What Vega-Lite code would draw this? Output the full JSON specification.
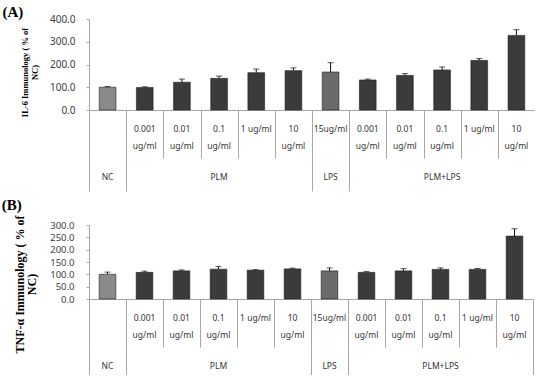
{
  "$schema": "https://vega.github.io/schema/vega-lite/v6.json",
  "padding": {"left": 1, "top": 5, "right": 0, "bottom": 0},
  "spacing": 6,
  "config": {
    "view": {"stroke": null},
    "font": "Noto Sans",
    "title": {"font": "Liberation Serif", "fontSize": 15, "fontWeight": "bold", "color": "#000000", "anchor": "start", "offset": 0},
    "axisY": {
      "grid": false, "tickSize": 3, "format": ".1f",
      "labelFont": "Noto Sans", "labelFontSize": 10, "labelColor": "#404040",
      "domainColor": "#a6a6a6", "tickColor": "#a6a6a6",
      "titleFont": "Liberation Serif", "titleFontWeight": "bold", "titleColor": "#000000"
    }
  },
  "datasets": {
    "il6": [
      {"cat": "NC", "group": "NC", "conc": "", "value": 100, "err": 3},
      {"cat": "PLM 0.001", "group": "PLM", "conc": "0.001\nug/ml", "value": 99, "err": 3},
      {"cat": "PLM 0.01", "group": "PLM", "conc": "0.01\nug/ml", "value": 122, "err": 14},
      {"cat": "PLM 0.1", "group": "PLM", "conc": "0.1\nug/ml", "value": 139, "err": 10},
      {"cat": "PLM 1", "group": "PLM", "conc": "1 ug/ml", "value": 164, "err": 16},
      {"cat": "PLM 10", "group": "PLM", "conc": "10\nug/ml", "value": 173, "err": 12},
      {"cat": "LPS 15", "group": "LPS", "conc": "15ug/ml", "value": 167, "err": 41},
      {"cat": "PLM+LPS 0.001", "group": "PLM+LPS", "conc": "0.001\nug/ml", "value": 132, "err": 4},
      {"cat": "PLM+LPS 0.01", "group": "PLM+LPS", "conc": "0.01\nug/ml", "value": 152, "err": 8},
      {"cat": "PLM+LPS 0.1", "group": "PLM+LPS", "conc": "0.1\nug/ml", "value": 176, "err": 13},
      {"cat": "PLM+LPS 1", "group": "PLM+LPS", "conc": "1 ug/ml", "value": 218, "err": 8},
      {"cat": "PLM+LPS 10", "group": "PLM+LPS", "conc": "10\nug/ml", "value": 328, "err": 25}
    ],
    "tnf": [
      {"cat": "NC", "group": "NC", "conc": "", "value": 100, "err": 9},
      {"cat": "PLM 0.001", "group": "PLM", "conc": "0.001\nug/ml", "value": 108, "err": 5},
      {"cat": "PLM 0.01", "group": "PLM", "conc": "0.01\nug/ml", "value": 114, "err": 4},
      {"cat": "PLM 0.1", "group": "PLM", "conc": "0.1\nug/ml", "value": 121, "err": 11},
      {"cat": "PLM 1", "group": "PLM", "conc": "1 ug/ml", "value": 117, "err": 2},
      {"cat": "PLM 10", "group": "PLM", "conc": "10\nug/ml", "value": 122, "err": 3},
      {"cat": "LPS 15", "group": "LPS", "conc": "15ug/ml", "value": 114, "err": 12},
      {"cat": "PLM+LPS 0.001", "group": "PLM+LPS", "conc": "0.001\nug/ml", "value": 108, "err": 3},
      {"cat": "PLM+LPS 0.01", "group": "PLM+LPS", "conc": "0.01\nug/ml", "value": 114, "err": 9},
      {"cat": "PLM+LPS 0.1", "group": "PLM+LPS", "conc": "0.1\nug/ml", "value": 120, "err": 6},
      {"cat": "PLM+LPS 1", "group": "PLM+LPS", "conc": "1 ug/ml", "value": 120, "err": 4},
      {"cat": "PLM+LPS 10", "group": "PLM+LPS", "conc": "10\nug/ml", "value": 255, "err": 30}
    ],
    "groups": [
      {"group": "NC", "mid": "NC"},
      {"group": "PLM", "mid": "PLM 0.1"},
      {"group": "LPS", "mid": "LPS 15"},
      {"group": "PLM+LPS", "mid": "PLM+LPS 0.1"}
    ]
  },
  "vconcat": [
    {
      "bounds": "flush",
      "spacing": 0,
      "vconcat": [
        {
          "title": {"text": "(A)", "dx": -18, "dy": 10},
          "width": 446,
          "height": 91,
          "data": {"name": "il6"},
          "transform": [{"calculate": "datum.value + datum.err", "as": "hi"}],
          "encoding": {
            "x": {
              "field": "cat", "type": "nominal",
              "scale": {"domain": ["NC", "PLM 0.001", "PLM 0.01", "PLM 0.1", "PLM 1", "PLM 10", "LPS 15", "PLM+LPS 0.001", "PLM+LPS 0.01", "PLM+LPS 0.1", "PLM+LPS 1", "PLM+LPS 10"], "paddingInner": 0, "paddingOuter": 0},
              "axis": {"labels": false, "ticks": false, "title": null, "domainColor": "#a6a6a6"}
            },
            "y": {
              "field": "value", "type": "quantitative",
              "scale": {"domain": [0, 400], "nice": false},
              "axis": {
                "title": ["IL-6 Immunology ( % of", "NC)"],
                "values": [0, 100, 200, 300, 400], "labelPadding": 11,
                "titleFontSize": 8.5, "titlePadding": 10, "titleY": 53, "titleLineHeight": 10
              }
            }
          },
          "layer": [
            {
              "mark": {"type": "rule", "color": "#111111"},
              "encoding": {"y2": {"field": "hi"}}
            },
            {
              "mark": {"type": "tick", "color": "#111111", "size": 6, "thickness": 1, "orient": "horizontal"},
              "encoding": {"y": {"field": "hi", "type": "quantitative"}}
            },
            {
              "mark": {"type": "bar", "width": {"band": 0.45}, "stroke": "#1e1e1e", "strokeWidth": 0.6},
              "encoding": {
                "color": {
                  "field": "group", "type": "nominal",
                  "scale": {"domain": ["NC", "PLM", "LPS", "PLM+LPS"], "range": ["#8a8a8a", "#3b3b3b", "#6b6b6b", "#3b3b3b"]},
                  "legend": null
                }
              }
            }
          ]
        },
        {
          "width": 446,
          "height": 48,
          "data": {"name": "il6"},
          "mark": {"type": "text", "fontSize": 8.5, "baseline": "top", "dy": -9, "lineBreak": "\n", "lineHeight": 16.5, "color": "#333333"},
          "encoding": {
            "x": {
              "field": "cat", "type": "nominal",
              "scale": {"domain": ["NC", "PLM 0.001", "PLM 0.01", "PLM 0.1", "PLM 1", "PLM 10", "LPS 15", "PLM+LPS 0.001", "PLM+LPS 0.01", "PLM+LPS 0.1", "PLM+LPS 1", "PLM+LPS 10"], "paddingInner": 0, "paddingOuter": 0},
              "axis": {"labels": false, "ticks": false, "domain": false, "title": null, "grid": true, "gridColor": "#a6a6a6", "gridOpacity": 1, "tickBand": "extent"}
            },
            "text": {"field": "conc"}
          }
        },
        {
          "width": 446,
          "height": 33,
          "data": {"name": "groups"},
          "mark": {"type": "text", "fontSize": 8.5, "baseline": "middle", "dy": 2.5, "color": "#333333"},
          "encoding": {
            "x": {
              "field": "mid", "type": "nominal",
              "scale": {"domain": ["NC", "PLM 0.001", "PLM 0.01", "PLM 0.1", "PLM 1", "PLM 10", "LPS 15", "PLM+LPS 0.001", "PLM+LPS 0.01", "PLM+LPS 0.1", "PLM+LPS 1", "PLM+LPS 10"], "paddingInner": 0, "paddingOuter": 0},
              "axis": {"labels": false, "ticks": false, "domain": false, "title": null, "grid": true, "gridColor": "#a6a6a6", "gridOpacity": 1, "tickBand": "extent", "values": ["NC", "PLM 10", "LPS 15", "PLM+LPS 10"]}
            },
            "text": {"field": "group"}
          }
        }
      ]
    },
    {
      "bounds": "flush",
      "spacing": 0,
      "vconcat": [
        {
          "title": {"text": "(B)", "dx": -12, "dy": 2},
          "width": 444,
          "height": 74,
          "data": {"name": "tnf"},
          "transform": [{"calculate": "datum.value + datum.err", "as": "hi"}],
          "encoding": {
            "x": {
              "field": "cat", "type": "nominal",
              "scale": {"domain": ["NC", "PLM 0.001", "PLM 0.01", "PLM 0.1", "PLM 1", "PLM 10", "LPS 15", "PLM+LPS 0.001", "PLM+LPS 0.01", "PLM+LPS 0.1", "PLM+LPS 1", "PLM+LPS 10"], "paddingInner": 0, "paddingOuter": 0},
              "axis": {"labels": false, "ticks": false, "title": null, "domainColor": "#a6a6a6"}
            },
            "y": {
              "field": "value", "type": "quantitative",
              "scale": {"domain": [0, 300], "nice": false},
              "axis": {
                "title": ["TNF-α Immunology ( % of", "NC)"],
                "values": [0, 50, 100, 150, 200, 250, 300], "labelPadding": 12, "labelFontSize": 9.5,
                "titleFontSize": 12, "titlePadding": 11, "titleY": 59, "titleLineHeight": 12
              }
            }
          },
          "layer": [
            {
              "mark": {"type": "rule", "color": "#111111"},
              "encoding": {"y2": {"field": "hi"}}
            },
            {
              "mark": {"type": "tick", "color": "#111111", "size": 6, "thickness": 1, "orient": "horizontal"},
              "encoding": {"y": {"field": "hi", "type": "quantitative"}}
            },
            {
              "mark": {"type": "bar", "width": {"band": 0.45}, "stroke": "#1e1e1e", "strokeWidth": 0.6},
              "encoding": {
                "color": {
                  "field": "group", "type": "nominal",
                  "scale": {"domain": ["NC", "PLM", "LPS", "PLM+LPS"], "range": ["#8a8a8a", "#3b3b3b", "#6b6b6b", "#3b3b3b"]},
                  "legend": null
                }
              }
            }
          ]
        },
        {
          "width": 444,
          "height": 48,
          "data": {"name": "tnf"},
          "mark": {"type": "text", "fontSize": 8.5, "baseline": "top", "dy": -9, "lineBreak": "\n", "lineHeight": 16.5, "color": "#333333"},
          "encoding": {
            "x": {
              "field": "cat", "type": "nominal",
              "scale": {"domain": ["NC", "PLM 0.001", "PLM 0.01", "PLM 0.1", "PLM 1", "PLM 10", "LPS 15", "PLM+LPS 0.001", "PLM+LPS 0.01", "PLM+LPS 0.1", "PLM+LPS 1", "PLM+LPS 10"], "paddingInner": 0, "paddingOuter": 0},
              "axis": {"labels": false, "ticks": false, "domain": false, "title": null, "grid": true, "gridColor": "#a6a6a6", "gridOpacity": 1, "tickBand": "extent"}
            },
            "text": {"field": "conc"}
          }
        },
        {
          "width": 444,
          "height": 28,
          "data": {"name": "groups"},
          "mark": {"type": "text", "fontSize": 8.5, "baseline": "middle", "dy": 4.5, "color": "#333333"},
          "encoding": {
            "x": {
              "field": "mid", "type": "nominal",
              "scale": {"domain": ["NC", "PLM 0.001", "PLM 0.01", "PLM 0.1", "PLM 1", "PLM 10", "LPS 15", "PLM+LPS 0.001", "PLM+LPS 0.01", "PLM+LPS 0.1", "PLM+LPS 1", "PLM+LPS 10"], "paddingInner": 0, "paddingOuter": 0},
              "axis": {"labels": false, "ticks": false, "domain": false, "title": null, "grid": true, "gridColor": "#a6a6a6", "gridOpacity": 1, "tickBand": "extent", "values": ["NC", "PLM 10", "LPS 15", "PLM+LPS 10"]}
            },
            "text": {"field": "group"}
          }
        }
      ]
    }
  ]
}
